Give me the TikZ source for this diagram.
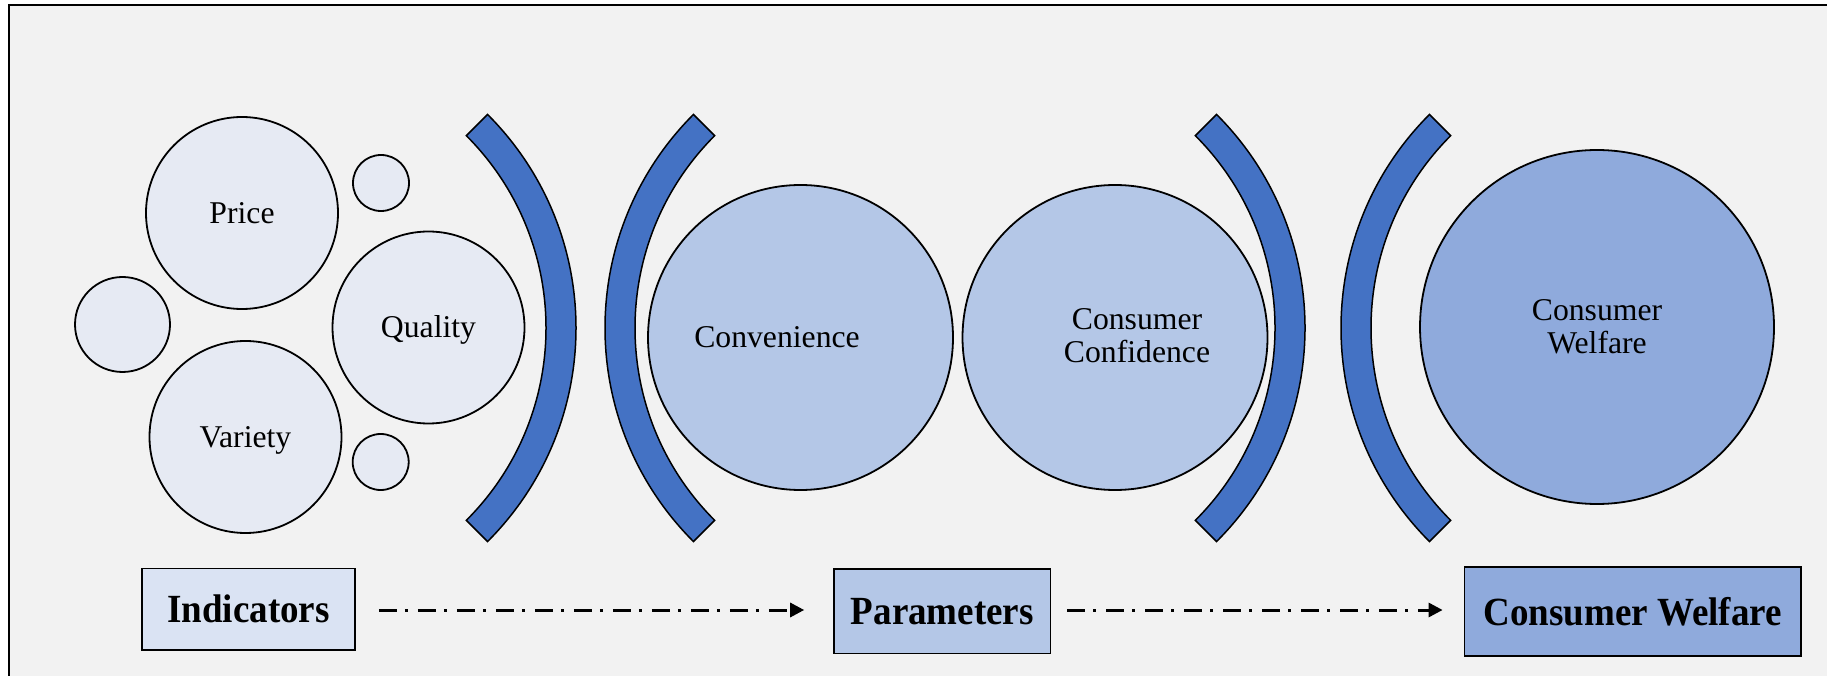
\documentclass[tikz,border=0pt]{standalone}
\usepackage{fontspec}
\setmainfont{Liberation Serif}
\usetikzlibrary{arrows.meta}

\definecolor{pagebg}{HTML}{F2F2F2}
\definecolor{palefill}{HTML}{E6EAF3}
\definecolor{boxone}{HTML}{DAE3F3}
\definecolor{midfill}{HTML}{B4C7E7}
\definecolor{deepfill}{HTML}{8FAADC}
\definecolor{bandblue}{HTML}{4472C4}

\tikzset{
  bubble/.style={circle, draw=black, line width=1.8pt, inner sep=0pt,
    minimum size=#1, align=center,
    font=\fontsize{31.7}{33}\selectfont},
  oneline/.style={text height=21pt, text depth=0pt},
  lbl/.style={inner sep=0pt, align=center, font=\fontsize{31.7}{33}\selectfont},
  stage/.style={draw=black, line width=1.5pt, inner sep=0pt,
    font=\fontsize{37}{40}\selectfont\bfseries},
  flow/.style={line width=3pt, dash pattern=on 18pt off 8pt on 3pt off 10pt,
    -{Triangle[length=14pt,width=14pt]}},
  arcband/.style={fill=bandblue, draw=black, line width=1.5pt, line join=miter},
  closebr/.pic={
    \draw[arcband] (45:302pt) arc[start angle=45, end angle=-45, radius=302pt]
      -- (-45:272pt) arc[start angle=-45, end angle=45, radius=272pt] -- cycle;
  },
  openbr/.pic={
    \draw[arcband] (135:302pt) arc[start angle=135, end angle=225, radius=302pt]
      -- (225:272pt) arc[start angle=225, end angle=135, radius=272pt] -- cycle;
  },
}
\newcommand{\tallbold}[1]{\scalebox{1}[1.08]{#1}}

\begin{document}
\begin{tikzpicture}[x=1pt, y=1pt]
  \useasboundingbox (0,0) rectangle (1827,675);
  \clip (0,0) rectangle (1827,675);
  \fill[white] (0,0) rectangle (1827,675);
  % panel with its frame
  \fill[pagebg] (9,-10) rectangle (1840,669.5);
  \draw[line width=2pt] (9,-10) -- (9,669.5) -- (1840,669.5);

  % indicator bubbles
  \node[bubble=192pt, fill=palefill, oneline] (price)   at (242,462)   {Price};
  \node[bubble=56pt,  fill=palefill] (dottop)  at (381,492)   {};
  \node[bubble=95pt,  fill=palefill] (dotleft) at (122.5,350.5) {};
  \node[bubble=192pt, fill=palefill, oneline] (quality) at (428.5,347.5) {Quality};
  \node[bubble=192pt, fill=palefill, oneline] (variety) at (245.5,238) {Variety};
  \node[bubble=56pt,  fill=palefill] (dotbot)  at (380.7,213) {};

  % brackets
  \pic at (274,347)  {closebr};
  \pic at (907,347)  {openbr};
  \pic at (1003,347) {closebr};
  \pic at (1643,347) {openbr};

  % parameter bubbles
  \node[bubble=305pt, fill=midfill] (conv) at (800.5,337.5) {};
  \node[lbl, oneline] (convtext) at (777,337.5) {Convenience};
  \node[bubble=305pt, fill=midfill] (conf) at (1115,337.5) {};
  \node[lbl] (conftext) at (1137,339) {Consumer\\Confidence};

  % outcome bubble
  \node[bubble=354pt, fill=deepfill] (welf) at (1597,348) {Consumer\\Welfare};

  % stage boxes
  \node[stage, fill=boxone,   minimum width=213pt,   minimum height=81.4pt] (ind) at (248.5,65.7) {\tallbold{Indicators}};
  \node[stage, fill=midfill,  minimum width=216.7pt, minimum height=84.7pt] (par) at (942.3,63.7) {\tallbold{Parameters}};
  \node[stage, fill=deepfill, minimum width=336.7pt, minimum height=89.3pt] (cw)  at (1632.7,63.6) {\tallbold{Consumer Welfare}};

  % flow arrows
  \draw[flow, shorten <=23pt, shorten >=29pt] (ind.east |- 0,65) -- (par.west |- 0,65);
  \draw[flow, shorten <=16pt, shorten >=21pt] (par.east |- 0,65) -- (cw.west |- 0,65);
\end{tikzpicture}
\end{document}
